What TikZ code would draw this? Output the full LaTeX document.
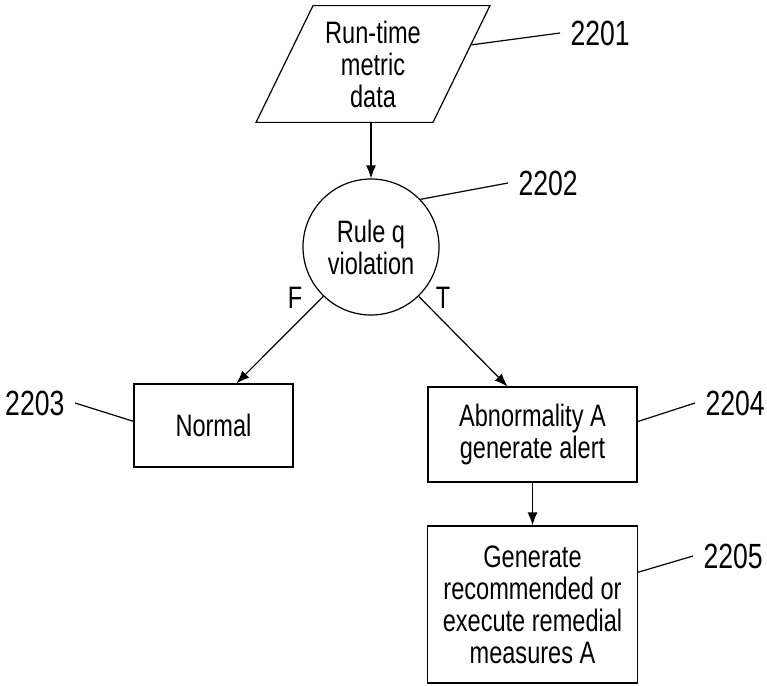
\documentclass[tikz,border=0pt]{standalone}
\usepackage{fontspec}
\setmainfont{Liberation Sans}[FakeStretch=0.76]
\usetikzlibrary{shapes.geometric,arrows.meta}

\tikzset{
  block/.style={draw, rectangle, align=center, inner sep=0pt},
  numlabel/.style={font=\fontsize{35}{40}\selectfont, inner xsep=10pt, inner ysep=0pt},
}

\begin{document}
\begin{tikzpicture}[x=1pt, y=-1pt, line width=1.2pt, >={Latex[length=13pt,width=10pt]},
    every node/.append style={font=\fontsize{31}{32}\selectfont}]
    \useasboundingbox (0,0) rectangle (767,685);
    \node[draw, trapezium, trapezium left angle=64, trapezium right angle=116,
      text width=120pt, inner xsep=0pt, inner ysep=15pt, align=center] (data) at (373,64) {Run-time\\metric\\data};
    \node[draw, circle, minimum size=136pt, inner sep=0pt, align=center] (rule) at (371,247) {Rule q\\violation};
    \node[block, minimum width=159pt, minimum height=83pt] (normal) at (213.5,425.5) {Normal};
    \node[block, minimum width=209pt, minimum height=95pt] (abn) at (532.5,434.5) {Abnormality A\\generate alert};
    \node[block, minimum width=210pt, minimum height=157pt] (gen) at (532.5,604.5) {Generate\\recommended or\\execute remedial\\measures A};
    \draw[->] (data.south -| rule.north) -- (rule.north);
    \draw[->] (rule.-134) -- ([xshift=23pt]normal.north);
    \draw[->] (rule.-46) -- ([xshift=-25pt]abn.north);
    \draw[->] (abn) -- (gen);
    \node (f) at (295,298) {F};
    \node (t) at (443,298) {T};
    \node[numlabel, anchor=west] (n2201) at (560,33) {2201};
    \node[numlabel, anchor=west] (n2202) at (508,183) {2202};
    \node[numlabel, anchor=east] (n2203) at (75,403) {2203};
    \node[numlabel, anchor=west] (n2204) at (695,403) {2204};
    \node[numlabel, anchor=west] (n2205) at (693,556) {2205};
    \draw (data.11) -- (n2201.west);
    \draw (rule.44) -- (n2202.west);
    \draw (n2203.east) -- (normal.177);
    \draw (abn.7) -- (n2204.west);
    \draw (gen.17) -- (n2205.west);
  \end{tikzpicture}
\end{document}
